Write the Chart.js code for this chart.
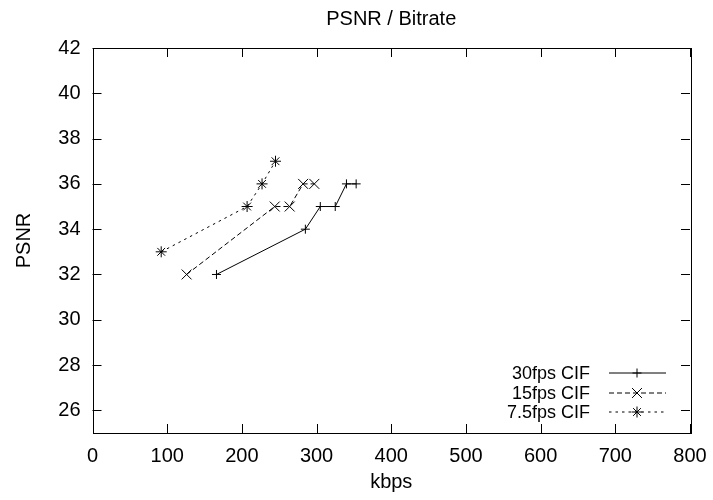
<!DOCTYPE html>
<html>
<head>
<meta charset="utf-8">
<script src="https://cdn.jsdelivr.net/npm/chart.js@4.4.1/dist/chart.umd.min.js"></script>
<style>
  body { margin: 0; background: #fff; }
  canvas { display: block; }
</style>
</head>
<body>
<canvas id="canvasOne" width="713" height="500"></canvas>
<script>
// values
var seriesNames = ['30fps CIF', '15fps CIF', '7.5fps CIF'];
var kbps30 = [166, 285, 305, 325, 340, 353];
var psnr30 = [32, 34, 35, 35, 36, 36];
var kbps15 = [126, 244, 264, 282, 297];
var psnr15 = [32, 35, 35, 36, 36];
var kbps75 = [92, 207, 227, 245];
var psnr75 = [33, 35, 36, 37];
var xTicks = [0, 100, 200, 300, 400, 500, 600, 700, 800];
var yTicks = [26, 28, 30, 32, 34, 36, 38, 40, 42];

var FONT = 'Liberation Sans';

function pts(xs, ys) {
    return xs.map(function(x, i) { return { x: x, y: ys[i] }; });
}

var styles = [
    { pointStyle: 'cross', radius: 4.5, dash: [] },
    { pointStyle: 'crossRot', radius: 7, dash: [5, 3] },
    { pointStyle: 'star', radius: 5.5, dash: [2.5, 4] }
];

// gnuplot style frame with inward ticks on all sides
var framePlugin = {
    id: 'frame',
    afterDraw: function(chart) {
        var ctx = chart.ctx;
        var a = chart.chartArea;
        var xs = chart.scales.x, ys = chart.scales.y;
        ctx.save();
        ctx.strokeStyle = '#000';
        ctx.lineWidth = 1;
        ctx.setLineDash([]);
        ctx.beginPath();
        xTicks.forEach(function(v) {
            var px = Math.round(xs.getPixelForValue(v)) + 0.5;
            ctx.moveTo(px, a.bottom); ctx.lineTo(px, a.bottom - 9);
            ctx.moveTo(px, a.top); ctx.lineTo(px, a.top + 9);
        });
        yTicks.forEach(function(v) {
            var py = Math.round(ys.getPixelForValue(v)) + 0.5;
            ctx.moveTo(a.left, py); ctx.lineTo(a.left + 9, py);
            ctx.moveTo(a.right, py); ctx.lineTo(a.right - 9, py);
        });
        ctx.stroke();
        ctx.strokeRect(Math.round(a.left) + 0.5, Math.round(a.top) + 0.5,
            Math.round(a.right - a.left), Math.round(a.bottom - a.top));

        // key, bottom right inside the plot
        ctx.font = '18px "' + FONT + '"';
        ctx.textAlign = 'right';
        ctx.textBaseline = 'middle';
        ctx.fillStyle = '#000';
        var rowsFromBottom = [60, 40, 21];
        seriesNames.forEach(function(name, i) {
            var y = a.bottom - rowsFromBottom[i];
            ctx.fillText(name, a.right - 100, y + 1);
            ctx.setLineDash(styles[i].dash);
            ctx.beginPath();
            ctx.moveTo(a.right - 81, y);
            ctx.lineTo(a.right - 24, y);
            ctx.stroke();
            ctx.setLineDash([]);
            Chart.helpers.drawPoint(ctx, {
                pointStyle: styles[i].pointStyle, radius: styles[i].radius, rotation: 0, borderWidth: 1
            }, a.right - 53, y);
        });
        ctx.restore();
    }
};

var datasets = [
    pts(kbps30, psnr30),
    pts(kbps15, psnr15),
    pts(kbps75, psnr75)
].map(function(d, i) {
    return {
        label: seriesNames[i],
        data: d,
        showLine: true,
        borderColor: '#000',
        backgroundColor: '#000',
        borderWidth: 1,
        borderDash: styles[i].dash,
        pointStyle: styles[i].pointStyle,
        pointRadius: styles[i].radius,
        pointBorderWidth: 1,
        pointBorderColor: '#000',
        tension: 0
    };
});

var ctx = document.getElementById('canvasOne').getContext('2d');
var chart = new Chart(ctx, {
    type: 'scatter',
    data: { datasets: datasets },
    options: {
        responsive: false,
        animation: false,
        layout: { padding: { left: 0, right: 23, top: 0, bottom: 0 } },
        plugins: {
            legend: { display: false },
            tooltip: { enabled: false },
            title: {
                display: true,
                text: 'PSNR / Bitrate',
                fullSize: false,
                color: '#000',
                font: { family: FONT, size: 20, weight: 'normal' },
                padding: { top: 7, bottom: 17 }
            }
        },
        scales: {
            x: {
                type: 'linear',
                min: 0,
                max: 800,
                afterBuildTicks: function(s) { s.ticks = xTicks.map(function(v) { return { value: v }; }); },
                afterFit: function(s) { s.height = 67; s.paddingLeft = 0; s.paddingRight = 0; },
                grid: { display: false, drawTicks: false },
                border: { display: false },
                ticks: { color: '#000', padding: 11, maxRotation: 0, font: { family: FONT, size: 20 } },
                title: {
                    display: true, text: 'kbps', color: '#000',
                    font: { family: FONT, size: 20 }, padding: { top: 0, bottom: 6 }
                }
            },
            y: {
                type: 'linear',
                min: 25,
                max: 42,
                afterBuildTicks: function(s) { s.ticks = yTicks.map(function(v) { return { value: v }; }); },
                afterFit: function(s) { s.width = 92.5; s.paddingTop = 0; s.paddingBottom = 0; },
                grid: { display: false, drawTicks: false },
                border: { display: false },
                ticks: { color: '#000', padding: 12, font: { family: FONT, size: 20 } },
                title: {
                    display: true, text: 'PSNR', color: '#000',
                    font: { family: FONT, size: 20 }, padding: { top: 12, bottom: 0 }
                }
            }
        }
    },
    plugins: [framePlugin]
});
</script>
</body>
</html>
